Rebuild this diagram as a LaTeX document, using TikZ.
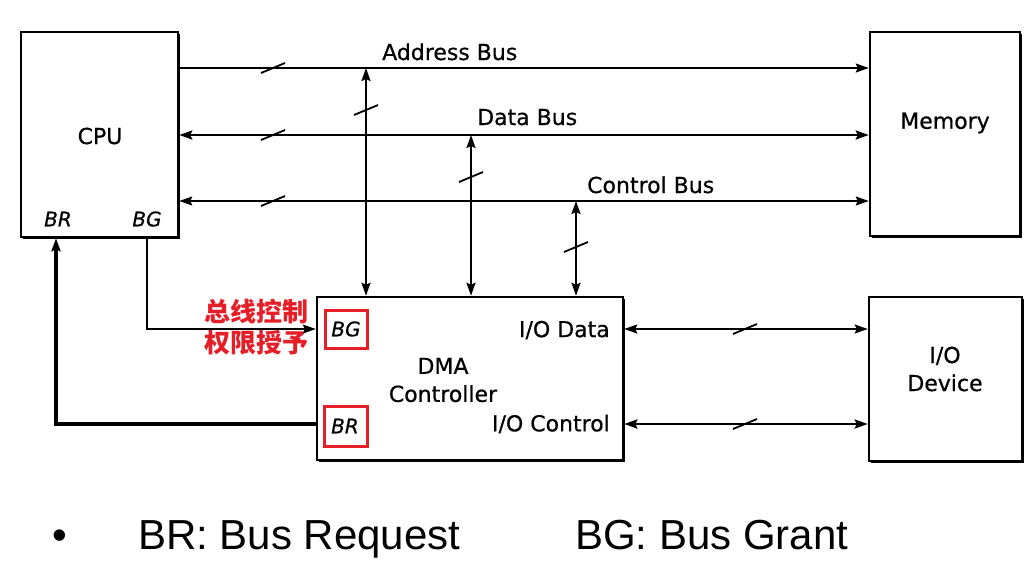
\documentclass[tikz,border=0pt]{standalone}
\usepackage{fontspec}
\usetikzlibrary{arrows.meta,shadows}
\newfontfamily\djv[FakeBold=0.6]{DejaVu Sans}
\newfontfamily\libs{Liberation Sans}
\newfontfamily\cjk{Noto Sans CJK SC}
\definecolor{hlred}{RGB}{230,30,40}
\newcommand\busslash[1]{\draw[slashmk, shift={(#1)}] (-12,5) -- (12,-5);}
\tikzset{
  box/.style={draw, line width=2.5pt, fill=white, inner sep=0pt,
    drop shadow={shadow xshift=1.5pt, shadow yshift=-1.5pt, opacity=1, fill=black}},
  lbl/.style={font=\djv\fontsize{22}{28}\selectfont, inner sep=0pt, align=center},
  ilbl/.style={font=\djv\itshape\fontsize{20}{24}\selectfont, inner sep=0pt},
  tip/.style={-{Stealth[length=13pt,width=9pt,inset=2pt]}},
  btip/.style={{Stealth[length=13pt,width=9pt,inset=2pt]}-{Stealth[length=13pt,width=9pt,inset=2pt]}},
  slashmk/.style={line width=1.8pt},
  redbox/.style={draw=hlred, line width=3pt},
  cn/.style={font=\cjk\bfseries\fontsize{26}{31}\selectfont, text=hlred, inner sep=0pt, align=center},
  foot/.style={font=\libs\fontsize{42}{50}\selectfont, inner sep=0pt, anchor=base west}
}
\begin{document}
\begin{tikzpicture}[x=1pt,y=-1pt]
\useasboundingbox (0,0) rectangle (1034,566);
% boxes
\node[box, minimum width=157pt, minimum height=205pt] (cpu) at (99.5,134.5) {};
\node[box, minimum width=150pt, minimum height=204pt] (mem) at (945,134) {};
\node[box, minimum width=306pt, minimum height=163pt] (dma) at (470,378.5) {};
\node[box, minimum width=153pt, minimum height=164pt] (iod) at (945.5,379) {};
% helper coordinates
\coordinate (yA) at (0,68);
\coordinate (yD) at (0,135);
\coordinate (yC) at (0,201);
\coordinate (yID) at (0,329);
\coordinate (yIC) at (0,424);
\coordinate (xA) at (366,0);
\coordinate (xD) at (471,0);
\coordinate (xC) at (576,0);
\coordinate (xBG) at (147,0);
\coordinate (xBR) at (56,0);
% labels
\node[lbl] (tcpu) at (100,136) {CPU};
\node[lbl] (tmem) at (945,123) {Memory};
\node[lbl] (tiod) at (945,369) {I/O\\Device};
\node[lbl, align=center] (tdma) at (443,380) {DMA\\Controller};
\node[lbl, anchor=east] (tiodata) at (610,330) {I/O Data};
\node[lbl, anchor=east] (tioctl) at (610,424) {I/O Control};
\node[lbl, anchor=base west] (tab) at (382,60) {Address Bus};
\node[lbl, anchor=base west] (tdb) at (477,125) {Data Bus};
\node[lbl, anchor=base west] (tcb) at (587,193) {Control Bus};
\node[ilbl] (cbr) at (58,219) {BR};
\node[ilbl] (cbg) at (147,219) {BG};
\node[ilbl] (dbg) at (346,329) {BG};
\node[ilbl] (dbr) at (345,426) {BR};
\draw[redbox] (325,310) rectangle (367,348);
\draw[redbox] (324,406) rectangle (367,446);
\node[cn] (cnt) at (256,327) {总线控制\\权限授予};
% buses
\draw[tip, line width=1.6pt] (cpu.east |- yA) -- (mem.west |- yA);
\draw[btip, line width=2.4pt] (cpu.east |- yD) -- (mem.west |- yD);
\draw[btip, line width=1.6pt] (cpu.east |- yC) -- (mem.west |- yC);
\draw[btip, line width=2.2pt] (xA |- yA) -- (xA |- dma.north);
\draw[btip, line width=2.2pt] (xD |- yD) -- (xD |- dma.north);
\draw[btip, line width=2.2pt] (xC |- yC) -- (xC |- dma.north);
\draw[btip, line width=1.8pt] (dma.east |- yID) -- (iod.west |- yID);
\draw[btip, line width=2.6pt] (dma.east |- yIC) -- (iod.west |- yIC);
% BG and BR
\draw[tip, line width=1.2pt] (xBG |- cpu.south) |- (dma.west |- yID);
\draw[tip, line width=3.2pt] (dma.west |- yIC) -| (xBR |- cpu.south);
% slashes
\busslash{273,68}
\busslash{273,135}
\busslash{273,201}
\busslash{366,110}
\busslash{471,177}
\busslash{576,247}
\busslash{745,329}
\busslash{745,424}
% footer
\node[foot] (bul) at (52,549) {•};
\node[foot] (fbr) at (138,549) {BR: Bus Request};
\node[foot] (fbg) at (575,549) {BG: Bus Grant};
\end{tikzpicture}
\end{document}
